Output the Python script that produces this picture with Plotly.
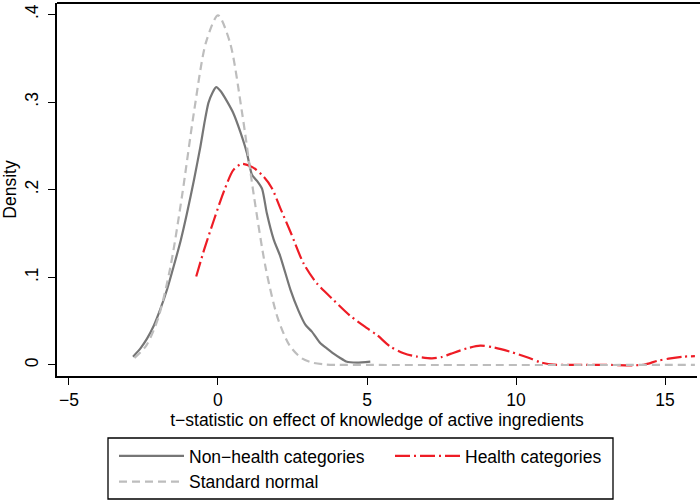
import plotly.graph_objects as go

# Non-health categories (kernel density)
nonhealth_x = [-2.85, -2.6, -2.38, -2.15, -1.94, -1.7, -1.49, -1.25, -1.04, -0.8, -0.59, -0.45,
               -0.32, -0.18, -0.06, 0.1, 0.3, 0.52, 0.75, 0.97, 1.14, 1.31, 1.48, 1.64, 1.87,
               2.09, 2.43, 2.7, 2.93, 3.15, 3.43, 3.65, 3.88, 4.1, 4.3, 4.66, 5.11]
nonhealth_y = [0.0095, 0.019, 0.030, 0.045, 0.063, 0.087, 0.112, 0.142, 0.173, 0.212, 0.249, 0.277,
               0.299, 0.311, 0.317, 0.312, 0.301, 0.287, 0.266, 0.242, 0.217, 0.210, 0.201, 0.173, 0.143,
               0.124, 0.086, 0.062, 0.046, 0.038, 0.025, 0.019, 0.013, 0.008, 0.004, 0.0027, 0.0038]

# Health categories
health_x = [-0.73, -0.45, -0.15, 0.05, 0.24, 0.52, 0.8, 1.14, 1.53, 1.81, 2.09, 2.43, 2.87, 3.32,
            3.88, 4.44, 5.0, 5.34, 5.78, 6.23, 6.68, 7.18, 7.5, 7.8, 8.36, 8.8, 9.25, 9.81, 10.37,
            10.82, 11.26, 12.0, 13.0, 14.28, 14.73, 15.18, 15.62, 16.0]
health_y = [0.101, 0.133, 0.164, 0.184, 0.2017, 0.2226, 0.2295, 0.226, 0.215, 0.2017, 0.179, 0.152,
            0.116, 0.093, 0.074, 0.056, 0.042, 0.034, 0.021, 0.0134, 0.0095, 0.0076, 0.009, 0.0126,
            0.019, 0.022, 0.020, 0.015, 0.0088, 0.003, 0.0003, 0.0001, 0.0001, 0.0002, 0.0046,
            0.0076, 0.0095, 0.010]

# Standard normal
normal_x = [-2.8, -2.4, -2.0, -1.6, -1.2, -0.8, -0.4, 0.0, 0.4, 0.8, 1.2, 1.6, 2.0, 2.4, 2.8,
            3.2, 3.6, 4.0, 5.0, 16.0]
normal_y = [0.0079, 0.0224, 0.0540, 0.1109, 0.1942, 0.2897, 0.3683, 0.3989, 0.3683, 0.2897,
            0.1942, 0.1109, 0.0540, 0.0224, 0.0079, 0.0024, 0.0006, 0.0001, 0.0, 0.0]

x_tickvals = [-5, 0, 5, 10, 15]
x_ticktext = ["\u22125", "0", "5", "10", "15"]
y_tickvals = [0, 0.1, 0.2, 0.3, 0.4]
y_ticktext = ["0", ".1", ".2", ".3", ".4"]

FONT = "Liberation Sans, Arial, Helvetica, sans-serif"
FS = 17.5

# plot area in pixels: x 57..697, y 3..376
PL, PW, PB, PH = 57, 640, 376, 373


def px_x(p):
    return (p - PL) / PW


def px_y(p):
    return (PB - p) / PH


fig = go.Figure()
fig.add_trace(go.Scatter(x=nonhealth_x, y=nonhealth_y, mode="lines", name="Non\u2212health categories",
                         line=dict(color="#767676", width=2.2, shape="spline", smoothing=0.6)))
fig.add_trace(go.Scatter(x=health_x, y=health_y, mode="lines", name="Health categories",
                         line=dict(color="#ee1c25", width=2.2, dash="15px,4px,2px,4px",
                                   shape="spline", smoothing=0.8)))
fig.add_trace(go.Scatter(x=normal_x, y=normal_y, mode="lines", name="Standard normal",
                         line=dict(color="#bdbdbd", width=2.2, dash="8px,5px",
                                   shape="spline", smoothing=0.8)))

fig.update_layout(
    width=700, height=501,
    margin=dict(l=57, r=3, t=3, b=125, autoexpand=False),
    paper_bgcolor="white", plot_bgcolor="white",
    font=dict(family=FONT, size=FS, color="black"),
    showlegend=True,
    legend=dict(orientation="h", xref="container", yref="container",
                x=114 / 700, xanchor="left",
                y=1 - 438 / 501, yanchor="top",
                borderwidth=0, bgcolor="rgba(0,0,0,0)",
                itemwidth=65,
                entrywidth=196, entrywidthmode="pixels",
                font=dict(family=FONT, size=FS), traceorder="normal"),
    xaxis=dict(range=[-5.40, 16.07], tickvals=x_tickvals, ticktext=x_ticktext,
               showgrid=False, zeroline=False, showline=True, linecolor="black", linewidth=1.5,
               ticks="outside", ticklen=7, tickcolor="black", tickwidth=1.2,
               title=dict(text="t\u2212statistic on effect of knowledge of active ingredients",
                          font=dict(size=FS), standoff=4)),
    yaxis=dict(range=[-0.0126, 0.413], tickvals=y_tickvals, ticktext=y_ticktext,
               showgrid=False, zeroline=False, showline=True, linecolor="black", linewidth=1.5,
               ticks="outside", ticklen=7, tickcolor="black", tickwidth=1.2, tickangle=-90,
               ticklabelstandoff=3,
               title=dict(text="Density", font=dict(size=FS), standoff=4)),
    shapes=[
        dict(type="line", xref="paper", yref="paper", x0=0, x1=1 + 3 / 640, y0=1, y1=1,
             layer="above", line=dict(color="black", width=2)),
        dict(type="rect", xref="paper", yref="paper",
             x0=px_x(108), x1=px_x(613), y0=px_y(499), y1=px_y(438),
             layer="below", line=dict(color="black", width=1.3), fillcolor="rgba(0,0,0,0)"),
    ],
)

fig.write_html("out.html", config={"displayModeBar": False},
               post_script="document.body.style.margin='0px';")
